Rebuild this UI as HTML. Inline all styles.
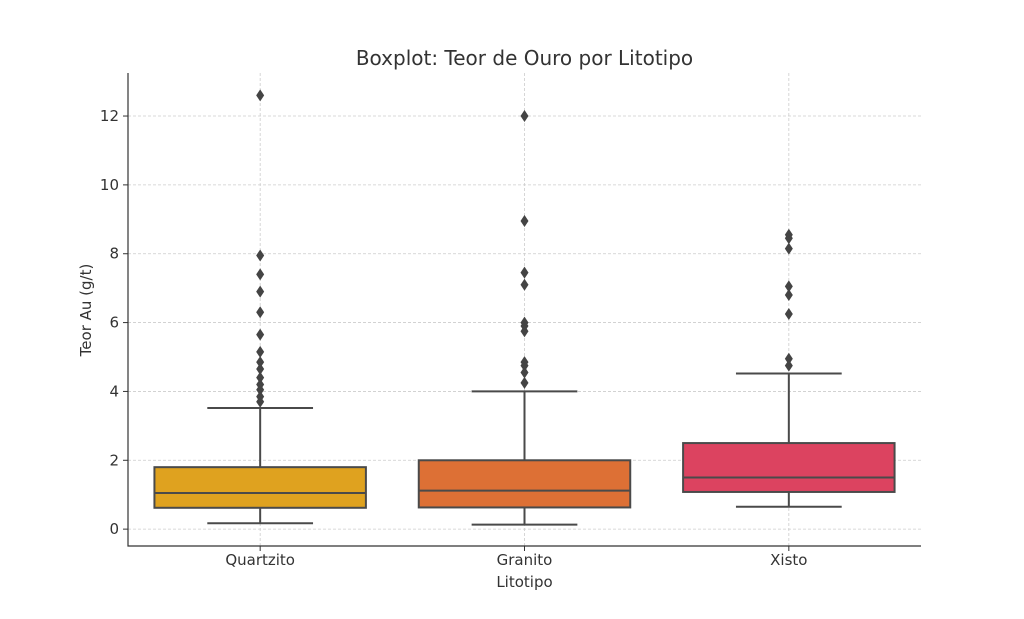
<!DOCTYPE html>
<html><head><meta charset="utf-8"><style>
body{margin:0;background:#fff}
text{font-family:"DejaVu Sans","Liberation Sans",sans-serif;fill:#333}
</style></head><body>
<svg id="chart" width="1024" height="614" xmlns="http://www.w3.org/2000/svg">
<text x="524.5" y="65" text-anchor="middle" font-size="20">Boxplot: Teor de Ouro por Litotipo</text>
<g id="grid"></g><g id="marks"></g><g id="axes"></g>
<text x="524.5" y="587" text-anchor="middle" font-size="15">Litotipo</text>
<text transform="translate(91,310) rotate(-90)" text-anchor="middle" font-size="15">Teor Au (g/t)</text>
</svg>
<script>
const categories=["Quartzito","Granito","Xisto"];
const colors=["#dfa21f","#dd7035","#dc4360"];
const whiskerLow=[0.17,0.13,0.65];
const q1=[0.62,0.63,1.08];
const medians=[1.05,1.12,1.5];
const q3=[1.8,2.0,2.5];
const whiskerHigh=[3.52,4.0,4.52];
const outliers=[[12.6,7.95,7.4,6.9,6.3,5.65,5.15,4.85,4.65,4.4,4.2,4.05,3.85,3.7],[12.0,8.95,7.45,7.1,6.0,5.9,5.75,4.85,4.75,4.55,4.25],[8.55,8.45,8.15,7.05,6.8,6.25,4.95,4.75]];
const yTicks=[0,2,4,6,8,10,12];
const L=128,R=921,T=73,B=546,ymin=-0.49,ymax=13.25;
const y=v=>B-(v-ymin)/(ymax-ymin)*(B-T);
const band=(R-L)/categories.length;
const x=i=>L+band*(i+0.5);
const NS="http://www.w3.org/2000/svg";
function mk(p,t,a){const e=document.createElementNS(NS,t);for(const k in a)e.setAttribute(k,a[k]);document.getElementById(p).appendChild(e);return e;}
yTicks.forEach(v=>{
 const g=mk("grid","line",{x1:L,x2:R,y1:y(v),y2:y(v),stroke:"#ccc","stroke-dasharray":"3,2","stroke-width":0.8});
 
 
 mk("axes","line",{x1:L-5,x2:L,y1:y(v),y2:y(v),stroke:"#333"});
 const t=mk("axes","text",{x:L-9,y:y(v)+5,"text-anchor":"end","font-size":15});t.textContent=v;
 
 
});
categories.forEach((c,i)=>{
 const cx=x(i),bw=band*0.8,cw=bw/2;
 const gl=mk("grid","line",{x1:cx,x2:cx,y1:T,y2:B,stroke:"#ccc","stroke-dasharray":"3,2","stroke-width":0.8});
 
 
 const st={stroke:"#4a4a4a","stroke-width":2};
 const w1=mk("marks","line",Object.assign({x1:cx,x2:cx,y1:y(q1[i]),y2:y(whiskerLow[i])},st));
 
 
 const w2=mk("marks","line",Object.assign({x1:cx,x2:cx,y1:y(q3[i]),y2:y(whiskerHigh[i])},st));
 
 
 const c1=mk("marks","line",Object.assign({x1:cx-cw/2,x2:cx+cw/2,y1:y(whiskerLow[i]),y2:y(whiskerLow[i])},st));
 
 
 const c2=mk("marks","line",Object.assign({x1:cx-cw/2,x2:cx+cw/2,y1:y(whiskerHigh[i]),y2:y(whiskerHigh[i])},st));
 
 
 const b=mk("marks","rect",Object.assign({x:cx-bw/2,y:y(q3[i]),width:bw,height:y(q1[i])-y(q3[i]),fill:colors[i]},st));
 
 
 const m=mk("marks","line",Object.assign({x1:cx-bw/2,x2:cx+bw/2,y1:y(medians[i]),y2:y(medians[i])},st));
 
 
 outliers[i].forEach(v=>{
  const yy=y(v);
  const o=mk("marks","polygon",{points:`${cx},${yy-6} ${cx+4},${yy} ${cx},${yy+6} ${cx-4},${yy}`,fill:"#444"});
  
  
 });
 mk("axes","line",{x1:cx,x2:cx,y1:B,y2:B+5,stroke:"#333"});
 const t=mk("axes","text",{x:cx,y:B+19,"text-anchor":"middle","font-size":15});t.textContent=c;
 
 
});
const ax=mk("axes","path",{d:`M${L},${T}V${B}H${R}`,fill:"none",stroke:"#333","stroke-width":1.2});


</script>
</body></html>
